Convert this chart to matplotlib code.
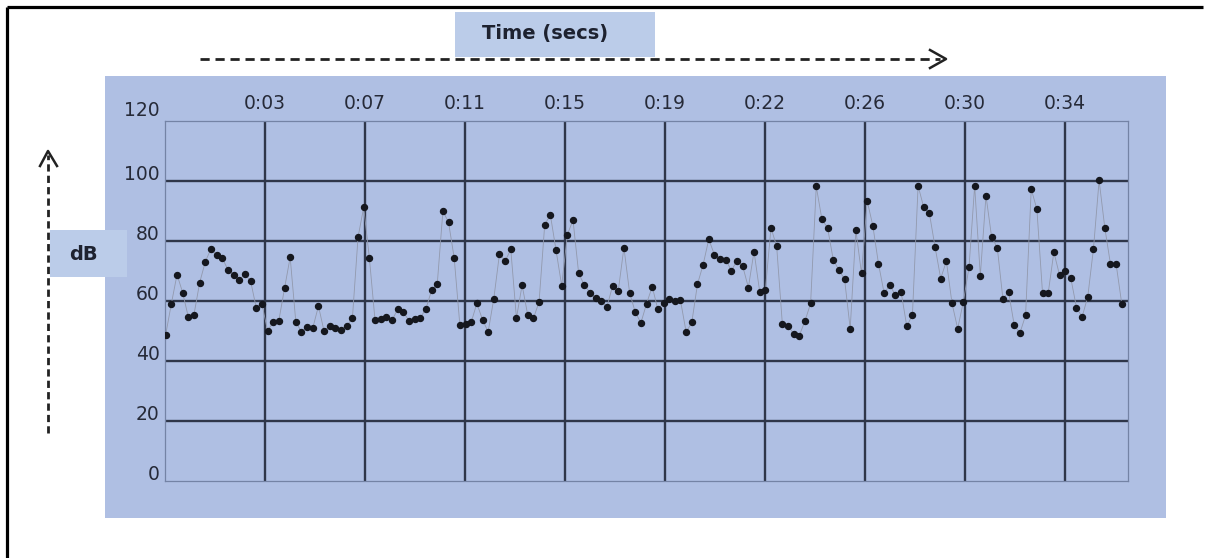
import numpy as np
import matplotlib
matplotlib.use('Agg')
import matplotlib.pyplot as plt
from matplotlib.lines import Line2D
from matplotlib.patches import Rectangle
import matplotlib.transforms as mtransforms

# ---------------- data ----------------
db_values = [
    48.8, 59.1, 68.8, 62.8, 54.6, 55.5, 66.1, 73.1, 77.4, 75.2, 74.3, 70.4, 68.8, 67.0, 69.0, 66.7,
    57.8, 59.1, 50.1, 52.9, 53.5, 64.2, 74.6, 53.0, 49.7, 51.3, 51.0, 58.3, 49.9, 51.8, 51.0, 50.4,
    51.8, 54.2, 81.3,
    91.2, 74.4, 53.6, 54.0, 54.7, 53.6, 57.2, 56.3, 53.5, 54.0, 54.4, 57.4, 63.6, 65.6, 90.0, 86.2,
    74.3, 51.9, 52.4, 52.9, 59.2, 53.8, 49.7, 60.8, 75.7, 73.3, 77.2, 54.3, 65.3, 55.3, 54.2, 59.7,
    85.5, 88.7, 76.9,
    65.1, 82.1, 87.0, 69.2, 65.3, 62.8, 61.1, 60.0, 58.0, 65.1, 63.4, 77.8, 62.8, 56.3, 52.7, 59.1,
    64.8, 57.2, 59.4, 60.8, 60.0, 60.2, 49.6, 52.9, 65.6, 72.1, 80.6, 75.4, 74.0, 73.8, 70.1, 73.5,
    71.6, 64.5, 76.5, 63.1,
    63.7, 84.4, 78.2, 52.5, 51.8, 49.1, 48.5, 53.3, 59.2, 98.2, 87.2, 84.4, 73.8, 70.3, 67.3, 50.8,
    83.6, 69.2, 93.4, 85.1, 72.4, 62.6, 65.3, 61.9, 63.0, 51.6, 55.3, 98.4, 91.2, 89.2, 78.0, 67.5,
    73.3, 59.2, 50.8,
    59.7, 71.2, 98.4, 68.4, 95.1, 81.3, 77.8, 60.6, 63.0, 51.9, 49.3, 55.2, 97.3, 90.6, 62.6, 62.6,
    76.3, 68.7, 69.9, 67.6, 57.8, 54.7, 61.5, 77.4, 100.2, 84.5, 72.4, 72.4, 59.1,
]
sample_start = 0.027   # seconds
sample_step = 0.215    # seconds between samples
time_secs = sample_start + sample_step * np.arange(len(db_values))

x_tick_values = [3.8, 7.6, 11.4, 15.2, 19.0, 22.8, 26.6, 30.4, 34.2]
x_tick_labels = ['0:03', '0:07', '0:11', '0:15', '0:19', '0:22', '0:26', '0:30', '0:34']
y_tick_values = [0, 20, 40, 60, 80, 100, 120]
x_label = 'Time (secs)'
y_label = 'dB'

# ---------------- layout ----------------
W, H = 1209, 558
fig = plt.figure(figsize=(W / 100, H / 100), dpi=100)
fig.patch.set_facecolor('white')


def fx(px):
    return px / W


def fy(py):
    return 1 - py / H


tf = fig.transFigure
panel_color = '#afbfe3'
box_color = '#bbcce9'
grid_color = '#2f3649'
text_color = '#262a38'

# outer border (top and left)
fig.add_artist(Line2D([fx(7), fx(1203)], [fy(7), fy(7)], color='black', lw=2.3,
                      transform=tf, solid_capstyle='butt'))
fig.add_artist(Line2D([fx(7), fx(7)], [fy(7), fy(560)], color='black', lw=2.3,
                      transform=tf, solid_capstyle='butt'))

# blue panel
fig.add_artist(Rectangle((fx(105), fy(518)), fx(1166) - fx(105), fy(76) - fy(518),
                         transform=tf, facecolor=panel_color, edgecolor='none', zorder=-5))

# Time label box and dashed arrow
fig.add_artist(Rectangle((fx(455), fy(57)), fx(655) - fx(455), fy(12) - fy(57),
                         transform=tf, facecolor=box_color, edgecolor='none', zorder=-4))
fig.text(fx(545), fy(34), x_label, ha='center', va='center', fontsize=14,
         fontweight='bold', color='#1e2230', family='DejaVu Sans')
fig.add_artist(Line2D([fx(200), fx(940)], [fy(59), fy(59)], color='#222222', lw=2.0,
                      linestyle=(0, (3.3, 2.1)), transform=tf))
fig.add_artist(Line2D([fx(930), fx(946), fx(930)], [fy(50), fy(59), fy(68)],
                      color='#222222', lw=1.8, transform=tf))

# dB label box and vertical dashed arrow
fig.add_artist(Rectangle((fx(50), fy(277)), fx(127) - fx(50), fy(230) - fy(277),
                         transform=tf, facecolor=box_color, edgecolor='none', zorder=-4))
fig.text(fx(83), fy(254), y_label, ha='center', va='center', fontsize=14,
         fontweight='bold', color='#1e2230', family='DejaVu Sans')
fig.add_artist(Line2D([fx(48), fx(48)], [fy(433), fy(155)], color='#222222', lw=2.0,
                      linestyle=(0, (2.6, 1.5)), transform=tf))
fig.add_artist(Line2D([fx(40), fx(48), fx(57)], [fy(166), fy(151), fy(166)],
                      color='#222222', lw=1.8, transform=tf))

# ---------------- plot area ----------------
ax = fig.add_axes([fx(165), fy(481), fx(1128) - fx(165), fy(121) - fy(481)])
ax.set_facecolor('none')
ax.set_xlim(0, 36.6)
ax.set_ylim(0, 120)

for y in y_tick_values[1:-1]:
    ax.axhline(y, color=grid_color, lw=1.7, zorder=1)
for x in x_tick_values:
    ax.axvline(x, color=grid_color, lw=1.7, zorder=1)

ax.plot(time_secs, db_values, color='#9299ad', lw=0.6, zorder=2)
ax.plot(time_secs, db_values, linestyle='none', marker='o', ms=4.3,
        color='#15171e', zorder=3)

ax.set_xticks(x_tick_values, x_tick_labels)
ax.set_yticks(y_tick_values)
ax.xaxis.tick_top()
ax.tick_params(length=0, labelsize=13.5, labelcolor=text_color)
ax.tick_params(axis='x', pad=6)
ax.tick_params(axis='y', pad=4)

for s in ax.spines.values():
    s.set_color('#7483a5')
    s.set_linewidth(0.9)

ylabels = ax.get_yticklabels()
for val, lab in zip(y_tick_values, ylabels):
    shift = 13 if val == y_tick_values[-1] else 9
    off = mtransforms.ScaledTranslation(0, shift / 100, fig.dpi_scale_trans)
    lab.set_transform(lab.get_transform() + off)

fig.savefig('out.png', dpi=100)
